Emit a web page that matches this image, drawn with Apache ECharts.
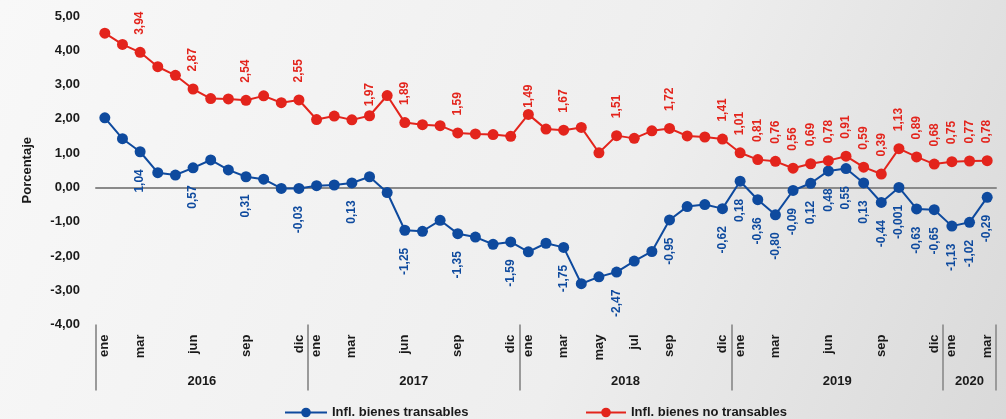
<!DOCTYPE html>
<html>
<head>
<meta charset="utf-8">
<script src="https://cdn.jsdelivr.net/npm/echarts@6/dist/echarts.min.js"></script>
<style>
  html, body { margin: 0; padding: 0; }
  #chart { width: 1006px; height: 419px; }
</style>
</head>
<body>
<div id="chart"></div>
<script>
  // meses y años
  const monthNames = ['ene', 'feb', 'mar', 'abr', 'may', 'jun', 'jul', 'ago', 'sep', 'oct', 'nov', 'dic']
  const years = ['2016', '2017', '2018', '2019', '2020']
  const monthsPerYear = [12, 12, 12, 12, 3]

  // inflación bienes transables (%)
  const transables = [
    2.03, 1.42, 1.04, 0.43, 0.36, 0.57, 0.80, 0.51, 0.31, 0.24, -0.03, -0.03,
    0.05, 0.07, 0.13, 0.31, -0.15, -1.25, -1.28, -0.96, -1.35, -1.45, -1.66, -1.59,
    -1.88, -1.63, -1.75, -2.81, -2.61, -2.47, -2.15, -1.87, -0.95, -0.56, -0.50, -0.62,
    0.18, -0.36, -0.80, -0.09, 0.12, 0.48, 0.55, 0.13, -0.44, -0.001, -0.63, -0.65,
    -1.13, -1.02, -0.29
  ]

  // inflación bienes no transables (%)
  const noTransables = [
    4.50, 4.17, 3.94, 3.52, 3.27, 2.87, 2.59, 2.58, 2.54, 2.67, 2.47, 2.55,
    1.98, 2.08, 1.97, 2.09, 2.68, 1.89, 1.83, 1.80, 1.59, 1.56, 1.54, 1.49,
    2.13, 1.70, 1.67, 1.75, 1.01, 1.51, 1.43, 1.65, 1.72, 1.50, 1.47, 1.41,
    1.01, 0.81, 0.76, 0.56, 0.69, 0.78, 0.91, 0.59, 0.39, 1.13, 0.89, 0.68,
    0.75, 0.77, 0.78
  ]

  // etiquetas de eje y de datos
  const yTicks = [-4, -3, -2, -1, 0, 1, 2, 3, 4, 5]
  const shownMonths = [0, 2, 5, 8, 11, 12, 14, 17, 20, 23, 24, 26, 28, 30, 32, 35, 36, 38, 41, 44, 47, 48, 50]
  const labeledPoints = [2, 5, 8, 11, 14, 17, 20, 23, 26, 29, 32, 35,
    36, 37, 38, 39, 40, 41, 42, 43, 44, 45, 46, 47, 48, 49, 50]
  // etiquetas movidas a mano en el original (con rotate 90: [arriba, derecha])
  const shiftedRedLabels = { 14: [-4, 17.6], 23: [11, 17.6] }

  const categories = []
  years.forEach((y, i) => {
    for (let m = 0; m < monthsPerYear[i]; m++) categories.push(monthNames[m] + ' ' + y)
  })
  const yearBounds = [0]
  monthsPerYear.forEach((n) => yearBounds.push(yearBounds[yearBounds.length - 1] + n))
  const yearCenters = years.map((y, i) => (yearBounds[i] + yearBounds[i + 1]) / 2)

  const BLUE = '#0e4a9e'
  const RED = '#e3241c'
  const FONT = "'Liberation Sans', Arial, sans-serif"

  const fmt = (v) => {
    const s = Math.abs(v) < 0.01 && v !== 0 ? v.toFixed(3) : v.toFixed(2)
    return s.replace('.', ',')
  }

  const makeData = (arr, isRed) => arr.map((v, i) => {
    const show = labeledPoints.indexOf(i) >= 0
    const item = { value: v, label: { show } }
    if (isRed && shiftedRedLabels[i]) item.label.offset = shiftedRedLabels[i]
    return item
  })

  const chart = echarts.init(document.getElementById('chart'))

  chart.setOption({
    backgroundColor: new echarts.graphic.LinearGradient(0, 0, 1, 1, [
      { offset: 0, color: '#f8f8f8' },
      { offset: 0.6, color: '#eeeeee' },
      { offset: 1, color: '#d9d9d9' }
    ]),
    textStyle: { fontFamily: FONT },
    grid: { left: 96, right: 10, top: 16, bottom: 94.5 },
    legend: [
      {
        data: ['Infl. bienes transables'],
        left: 279, top: 401,
        itemWidth: 42, itemHeight: 12,
        textStyle: { fontFamily: FONT, fontSize: 13, fontWeight: 'bold', color: '#1a1a1a' }
      },
      {
        data: ['Infl. bienes no transables'],
        left: 580, top: 401,
        itemWidth: 40, itemHeight: 12,
        textStyle: { fontFamily: FONT, fontSize: 13, fontWeight: 'bold', color: '#1a1a1a' }
      }
    ],
    xAxis: [
      {
        type: 'category',
        data: categories,
        position: 'bottom',
        axisLine: { show: false, onZero: false },
        axisTick: { show: false },
        axisLabel: {
          rotate: 90,
          margin: 10,
          fontSize: 13,
          fontWeight: 'bold',
          color: '#1a1a1a',
          interval: (i) => shownMonths.indexOf(i) >= 0,
          formatter: (v) => v.split(' ')[0]
        }
      },
      {
        // línea del cero
        type: 'category',
        data: categories,
        position: 'bottom',
        axisLine: { show: true, onZero: true, lineStyle: { color: '#8a8a8a', width: 2 } },
        axisTick: { show: false },
        axisLabel: { show: false }
      },
      {
        // años
        type: 'value',
        min: 0,
        max: yearBounds[yearBounds.length - 1],
        position: 'bottom',
        splitLine: { show: false },
        axisLine: { show: false, onZero: false },
        axisTick: {
          show: true,
          length: 66,
          customValues: yearBounds,
          lineStyle: { color: '#9a9a9a', width: 2 }
        },
        axisLabel: {
          customValues: yearCenters,
          margin: 50,
          fontSize: 13,
          fontWeight: 'bold',
          color: '#1a1a1a',
          formatter: (v) => years[yearCenters.indexOf(v)]
        }
      }
    ],
    yAxis: {
      type: 'value',
      min: yTicks[0],
      max: yTicks[yTicks.length - 1],
      interval: 1,
      name: 'Porcentaje',
      nameLocation: 'middle',
      nameGap: 62,
      nameTextStyle: { fontFamily: FONT, fontSize: 13, fontWeight: 'bold', color: '#1a1a1a' },
      splitLine: { show: false },
      axisLine: { show: false, onZero: false },
      axisTick: { show: false },
      axisLabel: {
        margin: 16,
        fontSize: 13,
        fontWeight: 'bold',
        color: '#1a1a1a',
        formatter: fmt
      }
    },
    series: [
      {
        name: 'Infl. bienes transables',
        type: 'line',
        data: makeData(transables, false),
        symbol: 'circle',
        symbolSize: 11,
        color: BLUE,
        lineStyle: { width: 2, color: BLUE },
        label: {
          position: 'bottom',
          distance: 12,
          rotate: 90,
          align: 'right',
          verticalAlign: 'middle',
          fontSize: 12,
          fontWeight: 'bold',
          color: BLUE,
          formatter: (p) => fmt(p.value)
        },
        z: 3
      },
      {
        name: 'Infl. bienes no transables',
        type: 'line',
        data: makeData(noTransables, true),
        symbol: 'circle',
        symbolSize: 11,
        color: RED,
        lineStyle: { width: 2, color: RED },
        label: {
          position: 'top',
          distance: 12,
          rotate: 90,
          align: 'left',
          verticalAlign: 'middle',
          fontSize: 12,
          fontWeight: 'bold',
          color: RED,
          formatter: (p) => fmt(p.value)
        },
        z: 3
      }
    ]
  })
</script>
</body>
</html>
